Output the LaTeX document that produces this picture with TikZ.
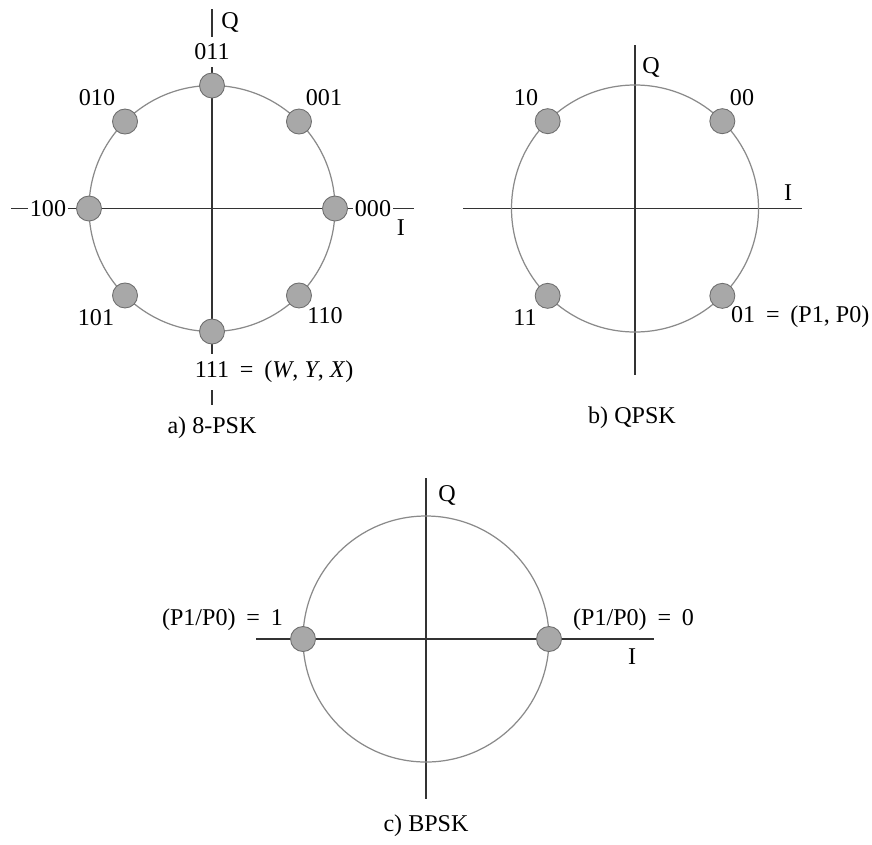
\documentclass[tikz,border=0pt]{standalone}
\usepackage{fontspec}
\setmainfont{Liberation Serif}
\usetikzlibrary{positioning, calc}
\definecolor{AxisDark}{HTML}{333333}
\definecolor{RingGray}{HTML}{8A8A8A}
\definecolor{DotFill}{HTML}{A8A8A8}
\definecolor{DotRim}{HTML}{6E6E6E}
\newcommand{\weq}{\hspace{0.45em}=\hspace{0.45em}}

\tikzset{
    axis/.style={draw=AxisDark, line width=1.1pt},
    ring/.style={draw=RingGray, line width=0.7pt},
    symbol/.style={circle, fill=DotFill, draw=DotRim, line width=0.5pt, minimum size=0.5cm, inner sep=0pt},
    lbl/.style={font=\fontsize{13.7}{16}\selectfont, inner sep=1pt},
    cut/.style={lbl, fill=white, inner xsep=1pt, inner ysep=4pt}
}

\begin{document}
\begin{tikzpicture}
    \useasboundingbox (0,0) rectangle (17.44,-16.88);

    % a) 8-PSK constellation
    \begin{scope}[shift={(4.24,-4.17)}]
        \coordinate (aN) at (0,3.99);
        \coordinate (aS) at (0,-3.93);
        \coordinate (aW) at (-4.02,0);
        \coordinate (aE) at (4.04,0);
        \draw[axis] (aN) -- (aS);
        \draw[axis] (aW) -- (aE);
        \draw[ring] (0,0) circle (2.46);

        % Labels that break the axes
        \node[cut] (a011) at (0,3.13) {011};
        \node[cut] (a100) at (-3.28,0) {100};
        \node[cut] (a000) at (3.22,0) {000};
        \node[cut] (a111) at (0,-3.27) {111\rlap{\weq(\textit{W}, \textit{Y}, \textit{X})}};

        % Eight symbols
        \foreach \k in {0,...,7}
            \node[symbol] (a\k) at (\k*45:2.46) {};

        \node[lbl] (a010) at (-2.30,2.21) {010};
        \node[lbl] (a001) at (2.24,2.21) {001};
        \node[lbl] (a101) at (-2.32,-2.19) {101};
        \node[lbl] (a110) at (2.26,-2.15) {110};
        \node[lbl] (aQ) at (0.36,3.73) {Q};
        \node[lbl] (aI) at (3.78,-0.39) {I};
        \node[lbl] (acap) at (0,-4.39) {a) 8-PSK};
    \end{scope}

    % b) QPSK constellation
    \begin{scope}[shift={(12.7,-4.17)}]
        \coordinate (bN) at (0,3.27);
        \coordinate (bS) at (0,-3.33);
        \coordinate (bW) at (-3.44,0);
        \coordinate (bE) at (3.34,0);
        \draw[axis] (bN) -- (bS);
        \draw[axis] (bW) -- (bE);
        \draw[ring] (0,0) circle (2.47);

        % Four symbols
        \foreach \k in {1,...,4}
            \node[symbol] (b\k) at (\k*90-45:2.47) {};

        \node[lbl] (b10) at (-2.18,2.21) {10};
        \node[lbl] (b00) at (2.14,2.21) {00};
        \node[lbl] (b11) at (-2.20,-2.19) {11};
        \node[lbl, anchor=west] (b01) at (1.88,-2.17) {01\weq(P1, P0)};
        \node[lbl] (bQ) at (0.32,2.83) {Q};
        \node[lbl] (bI) at (3.06,0.31) {I};
        \node[lbl] (bcap) at (-0.06,-4.19) {b) QPSK};
    \end{scope}

    % c) BPSK constellation
    \begin{scope}[shift={(8.52,-12.78)}]
        \coordinate (cN) at (0,3.22);
        \coordinate (cS) at (0,-3.20);
        \coordinate (cW) at (-3.40,0);
        \coordinate (cE) at (4.56,0);
        \draw[axis] (cN) -- (cS);
        \draw[axis] (cW) -- (cE);
        \draw[ring] (0,0) circle (2.46);

        % Two symbols
        \node[symbol] (c0) at (0:2.46) {};
        \node[symbol] (c1) at (180:2.46) {};

        \node[lbl, anchor=west] (czero) at (2.90,0.38) {(P1/P0)\weq0};
        \node[lbl, anchor=east] (cone) at (-2.82,0.38) {(P1/P0)\weq1};
        \node[lbl] (cQ) at (0.42,2.88) {Q};
        \node[lbl] (cI) at (4.12,-0.36) {I};
        \node[lbl] (ccap) at (0,-3.74) {c) BPSK};
    \end{scope}
\end{tikzpicture}
\end{document}
